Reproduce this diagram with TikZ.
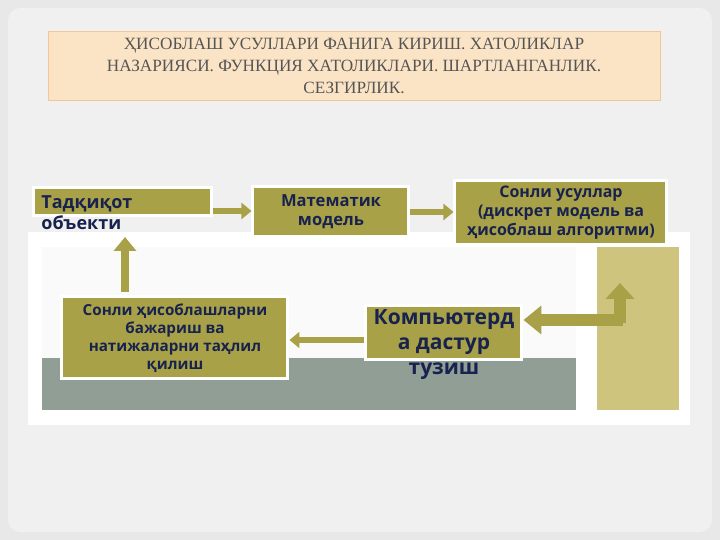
\documentclass[tikz,border=0pt]{standalone}
\usepackage{fontspec}
\setmainfont{Open Sans}
\newfontfamily\titlefont{Liberation Serif}
\usetikzlibrary{positioning,calc,arrows.meta}
\definecolor{olive}{RGB}{168,161,72}
\definecolor{navy}{RGB}{24,34,78}
\definecolor{slate}{RGB}{144,158,150}
\definecolor{paleolive}{RGB}{206,196,126}
\tikzset{
  stage/.style={draw=white, line width=1.5pt, fill=olive, text=navy, font=\bfseries\fontsize{8.3}{9.6}\selectfont, align=center, inner sep=2pt},
  flow/.style={draw=olive, line width=3pt, -{Triangle[length=5pt,width=8pt]}},
}
\begin{document}
\begin{tikzpicture}[x=0.5pt,y=-0.5pt]
\useasboundingbox (0,0) rectangle (720,540);
\fill[gray!18] (0,0) rectangle (720,540);
\fill[gray!12, rounded corners=6pt] (8,8) rectangle (712,532);
% Title
\node[draw={rgb,255:red,240;green,200;blue,150}, fill={rgb,255:red,251;green,228;blue,198}, minimum width=306pt, minimum height=34pt, align=center, text={rgb,255:red,85;green,85;blue,85}, font=\titlefont\fontsize{8.6}{11}\selectfont] (title) at (354,66)
  {ҲИСОБЛАШ УСУЛЛАРИ ФАНИГА КИРИШ. ХАТОЛИКЛАР\\НАЗАРИЯСИ. ФУНКЦИЯ ХАТОЛИКЛАРИ. ШАРТЛАНГАНЛИК.\\СЕЗГИРЛИК.};
% Background panels
\fill[white] (28,232) rectangle (690,425);
\fill[white!96!gray] (42,247) rectangle (576,358);
\fill[slate] (42,358) rectangle (576,410);
\fill[paleolive] (597,247) rectangle (679,410);
% Steps
\node[stage, minimum width=89pt, minimum height=14pt] (object) at (123,202) {};
\node[anchor=north west, text=navy, font=\bfseries\fontsize{9}{10.5}\selectfont, align=left, inner sep=0pt] (objtext) at (41,195) {Тадқиқот\\объекти};
\node[stage, minimum width=78pt, minimum height=25pt] (model) at (331,212) {Математик\\модель};
\node[stage, minimum width=106pt, minimum height=32pt, font=\bfseries\fontsize{8}{9.5}\selectfont] (methods) at (561,213) {Сонли усуллар\\(дискрет модель ва\\ҳисоблаш алгоритми)};
\node[stage, minimum width=113pt, minimum height=41pt, font=\bfseries\fontsize{7.6}{9}\selectfont] (analysis) at (175,338) {Сонли ҳисоблашларни\\бажариш ва\\натижаларни таҳлил\\қилиш};
\node[stage, minimum width=78pt, minimum height=27pt] (program) at (444,333) {};
\node[anchor=north, text=navy, font=\bfseries\fontsize{10.5}{12.5}\selectfont, align=center, inner sep=0pt] (progtext) at (444,309) {Компьютерд\\а дастур\\тузиш};
% Arrows
\draw[flow] ($(object.east)+(0,9)$) -- ($(model.west)+(0,-1)$);
\draw[flow] (model.east) -- (model.east -| methods.west);
\draw[flow, line width=4pt, -{Triangle[length=7pt,width=11pt]}] ($(analysis.north)+(-50,-3)$) -- (125,237);
\draw[flow] ($(program.west)+(0,7)$) -- ($(analysis.east)+(0,2)$);
\coordinate (bend) at (620,320);
\draw[draw=olive, line width=6pt, -{Triangle[length=9pt,width=14pt]}] ($(bend)+(3,0)$) -- ($(program.east)+(0,-13)$);
\draw[draw=olive, line width=6pt, -{Triangle[length=8pt,width=14pt]}] ($(bend)+(0,3)$) -- (620,283);
\end{tikzpicture}
\end{document}
